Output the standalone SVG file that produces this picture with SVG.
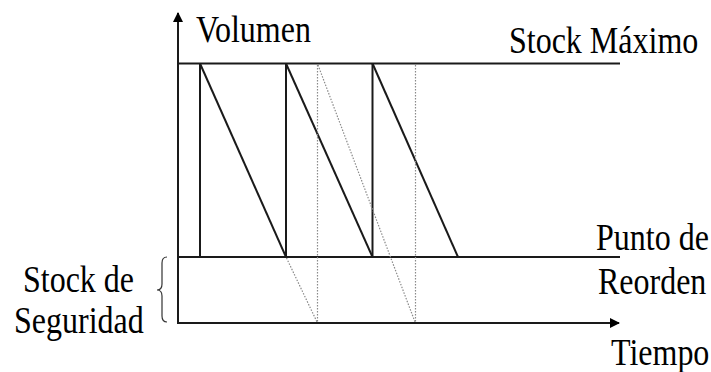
<svg xmlns="http://www.w3.org/2000/svg" width="711" height="372" viewBox="0 0 711 372">
  <style>
    .txt { font-family: "Liberation Serif", "Times New Roman", serif; font-size: 32px; fill: #000; }
    .solid { stroke: #1a1a1a; stroke-width: 2; fill: none; }
    .dot { stroke: #8a8a8a; stroke-width: 1.2; stroke-dasharray: 1.5 1.5; fill: none; }
    .brace { stroke: #333; stroke-width: 1.2; fill: none; }
  </style>
  <defs>
    <marker id="arrow" viewBox="0 0 10 10" refX="9" refY="5" markerWidth="10" markerHeight="10" markerUnits="userSpaceOnUse" orient="auto">
      <path d="M0,0 L10,5 L0,10 z" fill="#000"/>
    </marker>
  </defs>
  <rect width="711" height="372" fill="#fff"/>

  <g id="connectors">
    <line class="solid" x1="178" y1="324" x2="178" y2="13" marker-end="url(#arrow)"/>
    <line class="solid" x1="177" y1="323" x2="619" y2="323" marker-end="url(#arrow)"/>
    <line class="solid" x1="178" y1="63.5" x2="620" y2="63.5"/>
    <line class="solid" x1="178" y1="257" x2="620" y2="257"/>
    <line class="solid" x1="200" y1="63.5" x2="200" y2="257"/>
    <line class="solid" x1="286" y1="63.5" x2="286" y2="257"/>
    <line class="solid" x1="372.5" y1="63.5" x2="372.5" y2="257"/>
    <line class="solid" x1="200" y1="63.5" x2="286" y2="257"/>
    <line class="solid" x1="286" y1="63.5" x2="372.5" y2="257"/>
    <line class="solid" x1="372.5" y1="63.5" x2="458" y2="257"/>
    <line class="dot" x1="317.5" y1="65" x2="317.5" y2="323"/>
    <line class="dot" x1="415.5" y1="65" x2="415.5" y2="323"/>
    <line class="dot" x1="286.5" y1="258" x2="317" y2="322"/>
    <line class="dot" x1="318" y1="65" x2="415" y2="322"/>
    <path class="brace" d="M167,257 Q162,257 162,263 L162,284 Q162,290 157,290 Q162,290 162,296 L162,316 Q162,322 167,322"/>
  </g>

  <g id="label-volumen"><text class="txt" transform="translate(196,42) scale(1,1.16)">Volumen</text></g>
  <g id="label-stock-maximo"><text class="txt" transform="translate(509,53) scale(1,1.16)">Stock Máximo</text></g>
  <g id="label-punto-reorden">
    <text class="txt" transform="translate(596,249.5) scale(1,1.16)">Punto de</text>
    <text class="txt" transform="translate(598,294) scale(1,1.16)">Reorden</text>
  </g>
  <g id="label-tiempo"><text class="txt" transform="translate(611,364.5) scale(1,1.16)">Tiempo</text></g>
  <g id="label-stock-seguridad">
    <text class="txt" transform="translate(23,291.5) scale(1,1.16)">Stock de</text>
    <text class="txt" transform="translate(14,333) scale(1,1.16)">Seguridad</text>
  </g>
</svg>
